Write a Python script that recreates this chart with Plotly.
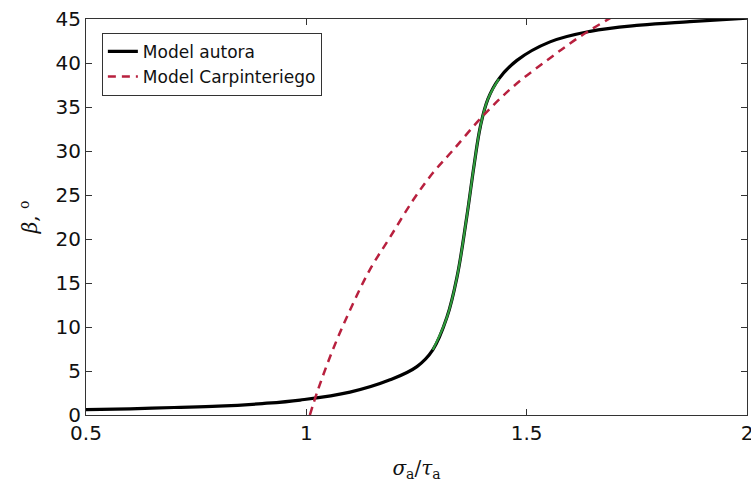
import plotly.graph_objects as go

# Model autora (solid)
x_autora = [0.5, 0.6, 0.7, 0.8, 0.9, 0.986, 1.099, 1.19, 1.251, 1.287, 1.319, 1.342,
            1.364, 1.381, 1.395, 1.412, 1.437, 1.478, 1.553, 1.644, 1.757, 1.87, 2.0]
y_autora = [0.6, 0.7, 0.85, 1.0, 1.3, 1.7, 2.6, 4.0, 5.5, 7.4, 11.1, 15.7,
            22.5, 28.5, 32.8, 35.9, 38.2, 40.3, 42.4, 43.6, 44.3, 44.7, 45.1]
# steep part drawn in green (index range within the above arrays)
green_start, green_end = 9, 16

# Model Carpinteriego (dashed)
x_carp = [1.008, 1.026, 1.06, 1.099, 1.144, 1.19, 1.242, 1.287, 1.333, 1.399,
          1.469, 1.546, 1.621, 1.71]
y_carp = [0.0, 2.8, 7.4, 11.9, 16.5, 20.2, 24.4, 27.5, 30.1, 33.9,
          37.3, 40.3, 43.0, 45.7]

x_ticks = [0.5, 1, 1.5, 2]
x_tick_text = ["0.5", "1", "1.5", "2"]
y_ticks = [0, 5, 10, 15, 20, 25, 30, 35, 40, 45]

fig = go.Figure()
fig.add_trace(go.Scatter(x=x_autora, y=y_autora, mode="lines", name="Model autora",
                         line=dict(color="black", width=3.2, shape="spline",
                                   smoothing=1.1)))
fig.add_trace(go.Scatter(x=x_autora[green_start:green_end + 1],
                         y=y_autora[green_start:green_end + 1], mode="lines",
                         showlegend=False,
                         line=dict(color="#2f9a3c", width=2.2, shape="spline",
                                   smoothing=1.1)))
fig.add_trace(go.Scatter(x=x_carp, y=y_carp, mode="lines", name="Model Carpinteriego",
                         line=dict(color="#b8203e", width=2.5, dash="8px,6px",
                                   shape="spline", smoothing=1.0)))

axis_common = dict(showline=True, linecolor="#333", linewidth=1, mirror="ticks",
                   ticks="inside", ticklen=6, tickcolor="#333", showgrid=False,
                   zeroline=False, ticklabeloverflow="allow", automargin=False,
                   tickfont=dict(family="DejaVu Sans", size=20, color="#111"))

fig.update_xaxes(range=[0.5, 2], tickvals=x_ticks, ticktext=x_tick_text,
                 title=dict(text="<i>σ</i><sub>a</sub>/<i>τ</i><sub>a</sub>",
                            font=dict(family="DejaVu Serif", size=20, color="#111"),
                            standoff=16),
                 **axis_common)
fig.update_yaxes(range=[0, 45], tickvals=y_ticks,
                 title=dict(text="<i>β</i>, <sup>o</sup>",
                            font=dict(family="DejaVu Serif", size=20, color="#111"),
                            standoff=12),
                 **axis_common)

fig.update_layout(
    width=751, height=492,
    margin=dict(l=86, r=4, t=19, b=77),
    plot_bgcolor="white", paper_bgcolor="white",
    legend=dict(x=0.024, y=0.965, xanchor="left", yanchor="top",
                bgcolor="white", bordercolor="#333", borderwidth=1,
                font=dict(family="DejaVu Sans", size=17, color="#111"),
                tracegroupgap=0),
)

fig.write_html("out.html")
